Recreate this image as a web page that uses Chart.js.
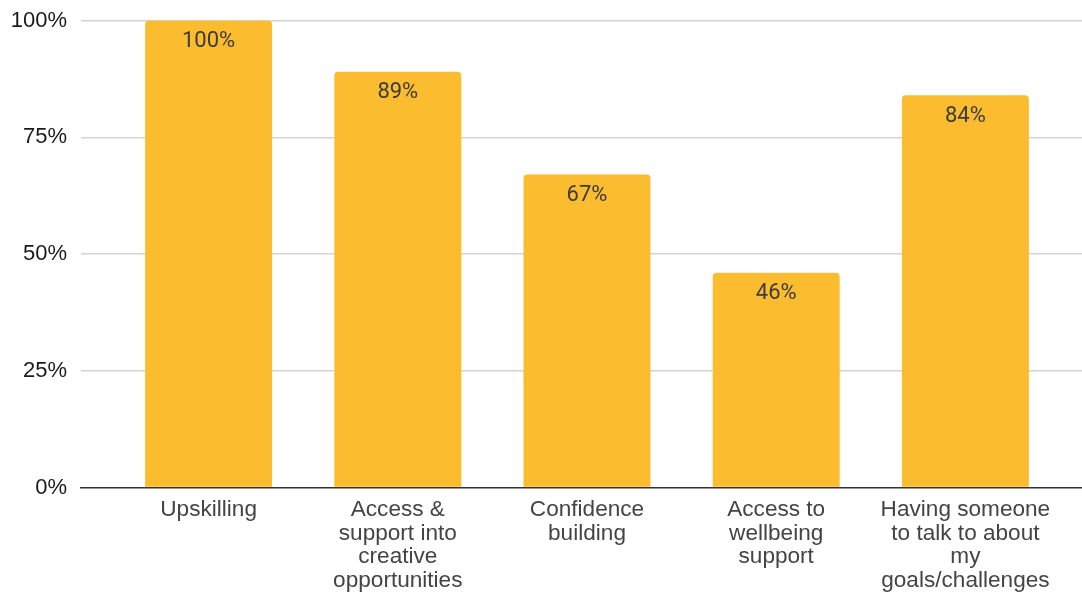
<!DOCTYPE html>
<html>
<head>
<meta charset="utf-8">
<script src="https://cdn.jsdelivr.net/npm/chart.js@4/dist/chart.umd.min.js"></script>
<style>
  html, body { margin: 0; padding: 0; background: #fff; }
  #wrap { width: 1082px; height: 592px; position: relative; }
</style>
</head>
<body>
<div id="wrap"><canvas id="supportChart"></canvas></div>
<script>
// Support areas and share of respondents (%)
const categories = [
    ['Upskilling'],
    ['Access &', 'support into', 'creative', 'opportunities'],
    ['Confidence', 'building'],
    ['Access to', 'wellbeing', 'support'],
    ['Having someone', 'to talk to about', 'my', 'goals/challenges']
];
const percentages = [100, 89, 67, 46, 84];
const yTicks = [0, 25, 50, 75, 100];

const barColor = '#fbbc2f';
const fontFamily = '"Liberation Sans", Arial, Helvetica, sans-serif';

// leave some room between the y axis and the first/last category
const xInset = { left: 33, right: 22 };
const insetCategories = {
    id: 'insetCategories',
    afterLayout(chart) {
        const x = chart.scales.x;
        x._startPixel = x.left + xInset.left;
        x._endPixel = x.right - xInset.right;
        x._length = x._endPixel - x._startPixel;
    }
};

// value labels inside the top of each bar
const barLabels = {
    id: 'barLabels',
    afterDatasetsDraw(chart) {
        const ctx = chart.ctx;
        const meta = chart.getDatasetMeta(0);
        ctx.save();
        ctx.font = '22px Roboto, sans-serif';
        ctx.fillStyle = '#3c3c3c';
        ctx.textAlign = 'center';
        ctx.textBaseline = 'middle';
        meta.data.forEach((bar, i) => {
            ctx.fillText(percentages[i] + '%', bar.x, bar.y + 21);
        });
        ctx.restore();
    }
};

new Chart(document.getElementById('supportChart'), {
    type: 'bar',
    data: {
        labels: categories,
        datasets: [{
            data: percentages,
            backgroundColor: barColor,
            borderRadius: 4,
            borderSkipped: 'start',
            barPercentage: 0.671,
            categoryPercentage: 1
        }]
    },
    options: {
        responsive: true,
        maintainAspectRatio: false,
        animation: false,
        layout: { padding: { top: 20.5, right: 0, bottom: 0, left: 0 } },
        plugins: {
            legend: { display: false },
            tooltip: { enabled: false }
        },
        scales: {
            x: {
                offset: true,
                grid: { display: false },
                border: { display: true, color: '#333', width: 1.5 },
                ticks: {
                    color: '#444',
                    padding: 3,
                    maxRotation: 0,
                    autoSkip: false,
                    font: { family: fontFamily, size: 22.6, lineHeight: 1.04 }
                },
                afterFit(scale) {
                    scale.height = 104.5;
                    scale.paddingLeft = 0;
                    scale.paddingRight = 0;
                }
            },
            y: {
                min: 0,
                max: 100,
                afterBuildTicks(scale) {
                    scale.ticks = yTicks.map(v => ({ value: v }));
                },
                grid: {
                    drawTicks: false,
                    color: ctx => ctx.tick && ctx.tick.value === 0 ? 'rgba(0,0,0,0)' : '#d3d3d3',
                    lineWidth: 1.5
                },
                border: { display: false },
                ticks: {
                    color: '#1a1a1a',
                    padding: 14,
                    font: { family: fontFamily, size: 22 },
                    callback: v => v + '%'
                },
                afterFit(scale) {
                    scale.width = 81;
                    scale.paddingTop = 0;
                    scale.paddingBottom = 0;
                }
            }
        }
    },
    plugins: [insetCategories, barLabels]
});
</script>
</body>
</html>
